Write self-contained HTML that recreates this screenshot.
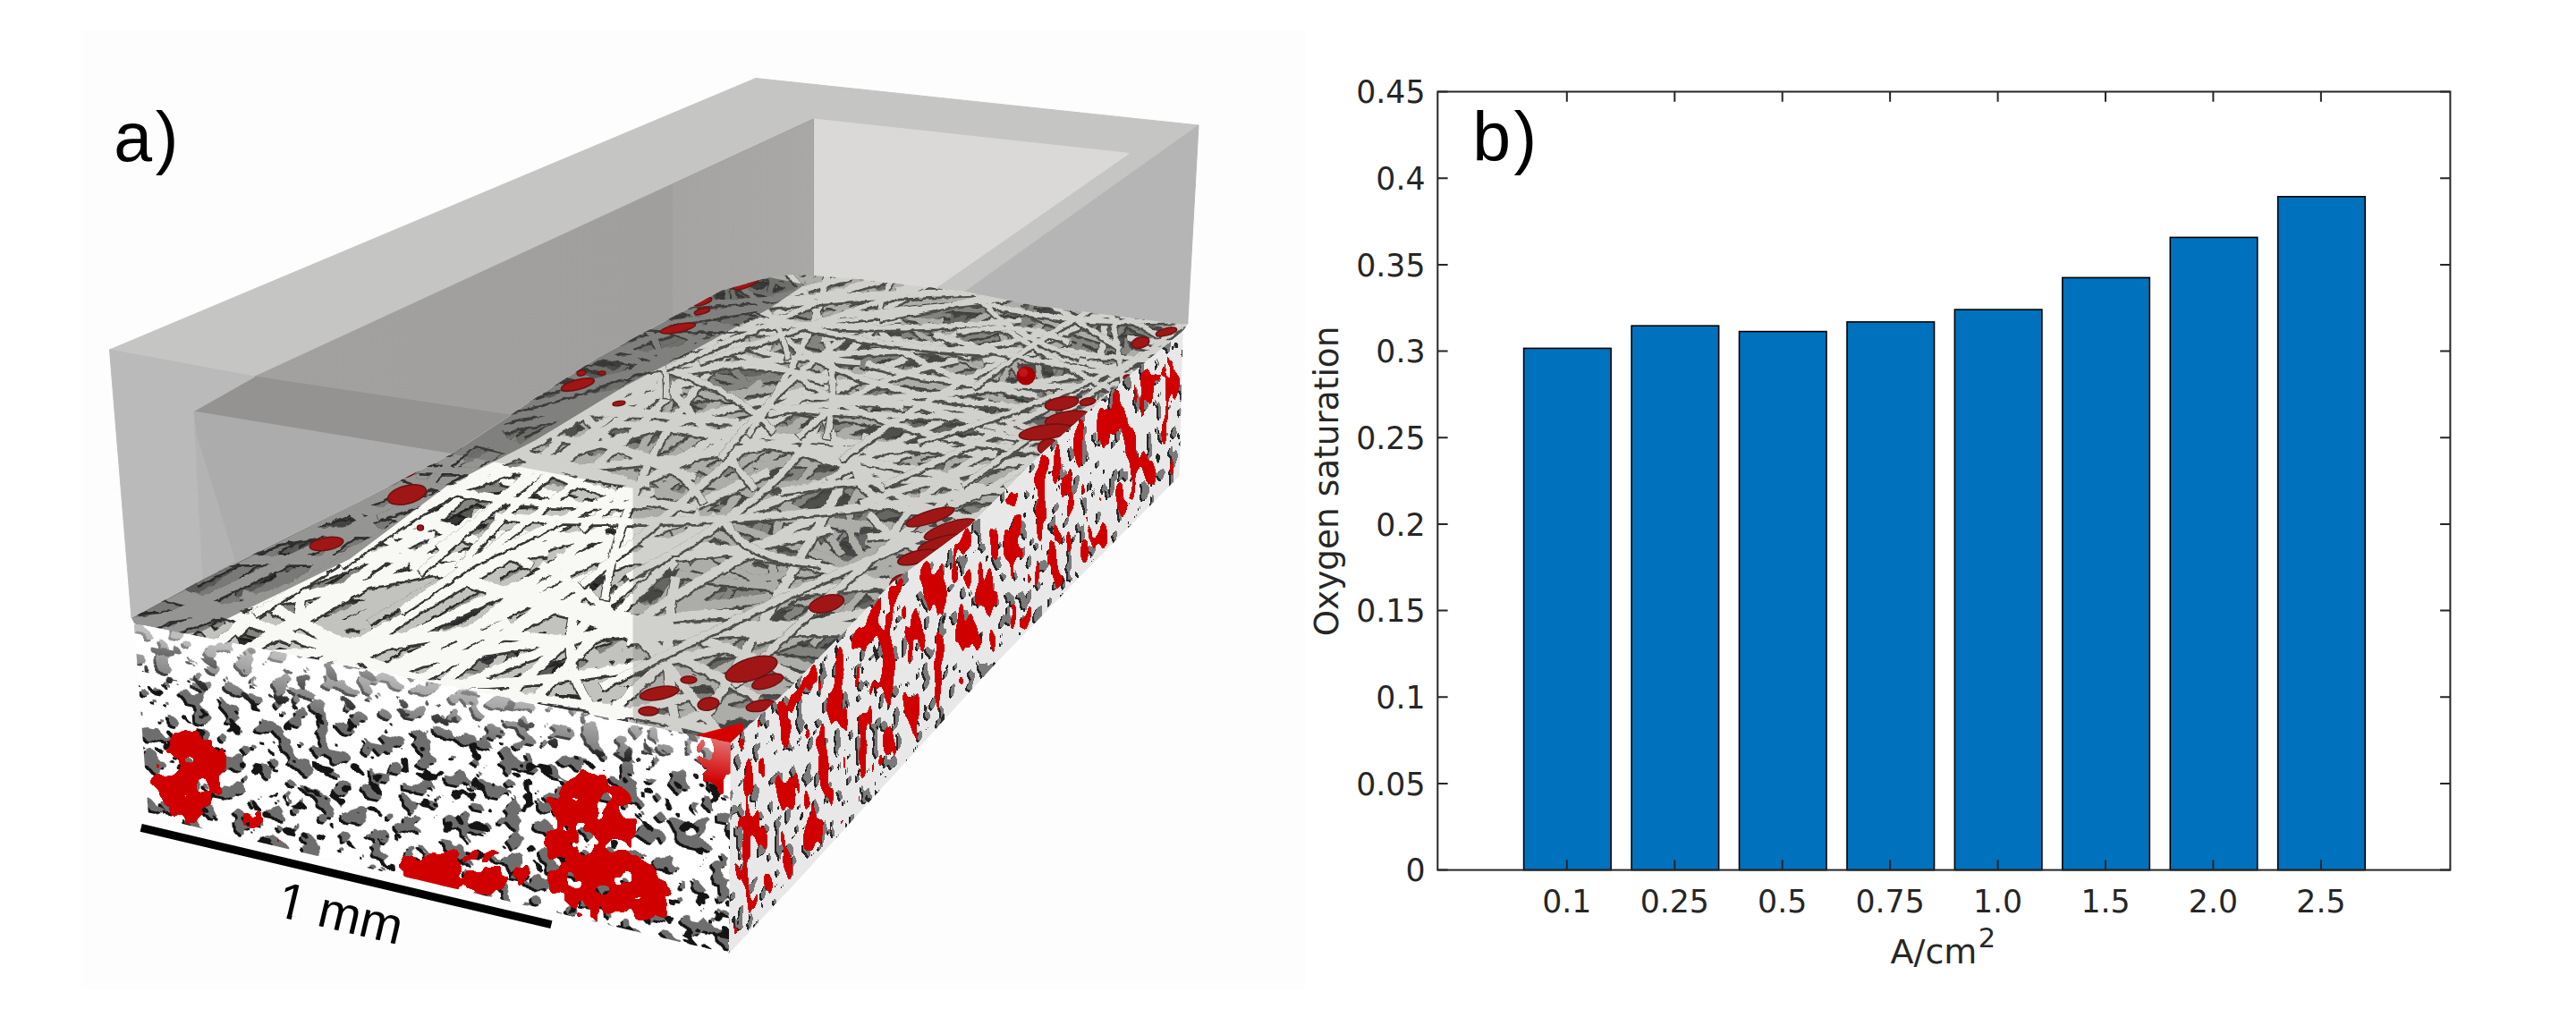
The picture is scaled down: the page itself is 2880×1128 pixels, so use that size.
<!DOCTYPE html>
<html><head><meta charset="utf-8"><style>
html,body{margin:0;padding:0;background:#fff;}
body{width:2880px;height:1128px;overflow:hidden;}
svg{display:block;}
.t{font-family:"DejaVu Sans","Liberation Sans",sans-serif;fill:#262626;}
</style></head><body>
<svg width="2880" height="1128" viewBox="0 0 2880 1128">
<rect x="0" y="0" width="2880" height="1128" fill="#fff"/>
<rect x="90" y="34" width="1369" height="1072" fill="#fdfdfd"/>
<defs><clipPath id="cfib"><polygon points="147.0,691.0 226.0,648.0 402.8,560.0 505.0,507.5 571.0,464.0 588.0,452.0 668.0,400.0 760.0,350.0 806.5,325.0 860.0,310.0 887.0,307.0 909.5,308.0 958.0,312.0 1046.0,322.0 1059.0,324.0 1079.0,326.0 1160.0,342.6 1177.0,344.0 1321.0,362.8 1328.0,362.0 1322.5,370.0 1248.0,432.0 1165.0,506.5 1085.0,587.0 998.0,651.0 880.0,772.0 817.0,830.0 150.0,697.0"/></clipPath><clipPath id="cfront"><polygon points="150.0,697.0 817.0,830.0 815.0,1066.0 166.0,912.0"/></clipPath><clipPath id="cright"><polygon points="817.0,830.0 880.0,772.0 998.0,651.0 1085.0,587.0 1165.0,506.5 1248.0,432.0 1322.5,370.0 1318.6,532.0 1212.0,640.0 1112.0,743.0 994.0,872.0 894.0,982.0 815.0,1066.0"/></clipPath><filter id="porF" x="0" y="0" width="1" height="1" color-interpolation-filters="sRGB">
<feTurbulence type="fractalNoise" baseFrequency="0.052 0.062" numOctaves="2" seed="5" result="n"/>
<feColorMatrix in="n" type="matrix" values="0 0 0 0 0  0 0 0 0 0  0 0 0 0 0  0 1 0 0 0"/>
<feComponentTransfer result="m"><feFuncA type="discrete" tableValues="1 1 1 1 1 1 1 1 1 1 1 1 1 1 1 1 1 0 0 0 0 0 0 0 0 0 0 0 0 0 0 0 0 0 0 0 0 0 0 0"/></feComponentTransfer>
<feFlood flood-color="#141414"/><feComposite in2="m" operator="in"/><feOffset dx="-2.5" dy="2.5" result="sh"/>
<feFlood flood-color="#6e6e6e"/><feComposite in2="m" operator="in" result="gy"/>
<feColorMatrix in="n" type="matrix" values="0 0 0 0 0  0 0 0 0 0  0 0 0 0 0  1 0 0 0 0"/>
<feComponentTransfer result="m2"><feFuncA type="discrete" tableValues="1 1 1 1 1 1 1 1 1 1 1 1 1 0 0 0 0 0 0 0 0 0 0 0 0 0 0 0 0 0 0 0 0 0 0 0 0 0 0 0"/></feComponentTransfer>
<feFlood flood-color="#141414"/><feComposite in2="m2" operator="in" result="dk"/>
<feFlood flood-color="#ffffff" result="bgc"/>
<feMerge><feMergeNode in="bgc"/><feMergeNode in="sh"/><feMergeNode in="gy"/><feMergeNode in="dk"/></feMerge>
</filter><filter id="porR" x="0" y="0" width="1" height="1" color-interpolation-filters="sRGB">
<feTurbulence type="fractalNoise" baseFrequency="0.12 0.05" numOctaves="2" seed="9" result="n"/>
<feColorMatrix in="n" type="matrix" values="0 0 0 0 0  0 0 0 0 0  0 0 0 0 0  0 1 0 0 0"/>
<feComponentTransfer result="m"><feFuncA type="discrete" tableValues="1 1 1 1 1 1 1 1 1 1 1 1 1 1 1 0 0 0 0 0 0 0 0 0 0 0 0 0 0 0 0 0 0 0 0 0 0 0 0 0"/></feComponentTransfer>
<feFlood flood-color="#262626"/><feComposite in2="m" operator="in"/><feOffset dx="-2" dy="2" result="sh"/>
<feFlood flood-color="#7a7a7a"/><feComposite in2="m" operator="in" result="gy"/>
<feColorMatrix in="n" type="matrix" values="0 0 0 0 0  0 0 0 0 0  0 0 0 0 0  1 0 0 0 0"/>
<feComponentTransfer result="m2"><feFuncA type="discrete" tableValues="1 1 1 1 1 1 1 1 1 1 0 0 0 0 0 0 0 0 0 0 0 0 0 0 0 0 0 0 0 0 0 0 0 0 0 0 0 0 0 0"/></feComponentTransfer>
<feFlood flood-color="#262626"/><feComposite in2="m2" operator="in" result="dk"/>
<feFlood flood-color="#e8e8e8" result="bgc"/>
<feMerge><feMergeNode in="bgc"/><feMergeNode in="sh"/><feMergeNode in="gy"/><feMergeNode in="dk"/></feMerge>
</filter><filter id="redF" x="-0.05" y="-0.05" width="1.1" height="1.1" color-interpolation-filters="sRGB">
<feTurbulence type="fractalNoise" baseFrequency="0.045" numOctaves="2" seed="21" result="n"/>
<feGaussianBlur in="SourceAlpha" stdDeviation="7" result="m"/>
<feComposite in="m" in2="n" operator="arithmetic" k1="0" k2="1" k3="2.0" k4="-1.25" result="s"/>
<feComponentTransfer in="s" result="t"><feFuncA type="discrete" tableValues="0 0 0 0 0 1 1 1 1 1"/></feComponentTransfer>
<feFlood flood-color="#d00000"/><feComposite in2="t" operator="in"/>
</filter><filter id="redR" x="-0.05" y="-0.05" width="1.1" height="1.1" color-interpolation-filters="sRGB">
<feTurbulence type="fractalNoise" baseFrequency="0.07 0.022" numOctaves="2" seed="23" result="n"/>
<feGaussianBlur in="SourceAlpha" stdDeviation="6" result="m"/>
<feComposite in="m" in2="n" operator="arithmetic" k1="0" k2="1" k3="2.0" k4="-1.55" result="s"/>
<feComponentTransfer in="s" result="t"><feFuncA type="discrete" tableValues="0 0 0 0 0 1 1 1 1 1"/></feComponentTransfer>
<feFlood flood-color="#d00000"/><feComposite in2="t" operator="in"/>
</filter><filter id="redT" x="-0.05" y="-0.05" width="1.1" height="1.1" color-interpolation-filters="sRGB">
<feTurbulence type="fractalNoise" baseFrequency="0.05 0.1" numOctaves="2" seed="29" result="n"/>
<feGaussianBlur in="SourceAlpha" stdDeviation="2.5" result="m"/>
<feComposite in="m" in2="n" operator="arithmetic" k1="0" k2="1" k3="1.2" k4="-0.6" result="s"/>
<feComponentTransfer in="s" result="t"><feFuncA type="discrete" tableValues="0 0 0 0 0 1 1 1 1 1"/></feComponentTransfer>
<feFlood flood-color="#a81212"/><feComposite in2="t" operator="in"/>
</filter><linearGradient id="gRR" gradientUnits="userSpaceOnUse" x1="1040" y1="620" x2="1150" y2="740"><stop offset="0" stop-color="#000" stop-opacity="1"/><stop offset="1" stop-color="#000" stop-opacity="0.8"/></linearGradient><linearGradient id="gFT" gradientUnits="userSpaceOnUse" x1="480" y1="760" x2="470" y2="820"><stop offset="0" stop-color="#fff" stop-opacity="0.55"/><stop offset="1" stop-color="#fff" stop-opacity="0"/></linearGradient><linearGradient id="gR5" x1="0" y1="0" x2="1" y2="0"><stop offset="0" stop-color="#a3a19f"/><stop offset="0.745" stop-color="#a19f9d"/><stop offset="0.75" stop-color="#a6a4a2"/><stop offset="1" stop-color="#aaa8a6"/></linearGradient><filter id="rough" x="0" y="0" width="1" height="1"><feTurbulence type="fractalNoise" baseFrequency="0.12" numOctaves="2" seed="3" result="t"/><feDisplacementMap in="SourceGraphic" in2="t" scale="5" xChannelSelector="R" yChannelSelector="G"/></filter></defs>
<polygon points="122.5,391.0 845.0,87.5 1340.0,140.0 1079.0,326.0 1046.0,322.0 1262.5,171.4 909.5,133.0 285.0,421.0" fill="#c5c5c3" stroke="#c5c5c3" stroke-width="1"/>
<polygon points="1340.0,140.0 1328.0,358.0 1328.0,362.0 1321.0,362.8 1177.0,344.0 1160.0,342.6 1079.0,326.0" fill="#b5b5b5" stroke="#b5b5b5" stroke-width="1"/>
<polygon points="909.5,133.0 1262.5,171.4 1046.0,322.0 958.0,312.0 909.5,308.0" fill="#dad9d7" stroke="#dad9d7" stroke-width="1"/>
<polygon points="285.0,421.0 909.5,133.0 909.5,308.0 887.0,307.0 860.0,310.0 806.5,325.0 760.0,350.0 668.0,400.0 588.0,452.0 571.0,464.0" fill="url(#gR5)" stroke="#a3a19f" stroke-width="1"/>
<polygon points="285.0,421.0 571.0,464.0 505.0,507.5 216.0,460.0" fill="#959392" stroke="#959392" stroke-width="1"/>
<polygon points="216.0,460.0 505.0,507.5 402.8,560.0 226.0,648.0" fill="#acacac" stroke="#acacac" stroke-width="1"/>
<polygon points="216.0,460.0 219.0,484.0 262.6,626.7 226.0,648.0" fill="#b3b3b3" stroke="#b3b3b3" stroke-width="1"/>
<polygon points="122.5,391.0 285.0,421.0 216.0,460.0 226.0,648.0 147.0,691.0" fill="#bababa" stroke="#bababa" stroke-width="1"/>
<g clip-path="url(#cfib)"><g filter="url(#rough)">
<polygon points="147.0,691.0 226.0,648.0 402.8,560.0 505.0,507.5 571.0,464.0 588.0,452.0 668.0,400.0 760.0,350.0 806.5,325.0 860.0,310.0 887.0,307.0 909.5,308.0 958.0,312.0 1046.0,322.0 1059.0,324.0 1079.0,326.0 1160.0,342.6 1177.0,344.0 1321.0,362.8 1328.0,362.0 1322.5,370.0 1248.0,432.0 1165.0,506.5 1085.0,587.0 998.0,651.0 880.0,772.0 817.0,830.0 150.0,697.0" fill="#2c2c2a"/>
<path d="M27 733Q257 713 349 782M-227 972Q286 740 637 564M211 986Q425 736 492 578M-207 772Q104 716 394 655M232 666Q444 621 618 526M757 614Q975 639 1081 761M280 722Q432 669 526 598M241 842Q597 712 882 640M607 680Q696 693 615 778M777 748Q993 805 1090 983M560 797Q775 821 999 839M92 745Q264 724 254 807M247 608Q454 651 538 777M671 598Q754 613 851 619M664 646Q781 707 869 800M430 807Q754 708 983 714M495 911Q775 691 902 530M740 735Q909 819 1051 955" fill="none" stroke="#1a1a1a" stroke-width="12.5" transform="translate(0 1.5)"/>
<path d="M27 733Q257 713 349 782M-227 972Q286 740 637 564M211 986Q425 736 492 578M-207 772Q104 716 394 655M232 666Q444 621 618 526M757 614Q975 639 1081 761M280 722Q432 669 526 598M241 842Q597 712 882 640M607 680Q696 693 615 778M777 748Q993 805 1090 983M560 797Q775 821 999 839M92 745Q264 724 254 807M247 608Q454 651 538 777M671 598Q754 613 851 619M664 646Q781 707 869 800M430 807Q754 708 983 714M495 911Q775 691 902 530M740 735Q909 819 1051 955" fill="none" stroke="#383838" stroke-width="10"/>
<path d="M698 560Q859 458 1006 378M522 530Q695 459 762 387M400 584Q471 519 443 484M520 528Q652 503 780 463M671 651Q944 561 1144 454M1096 602Q1183 560 1267 553M584 712Q899 528 1153 408M619 445Q626 474 644 500M1023 612Q906 620 921 554M364 556Q488 540 605 526M693 365Q603 464 667 538M1053 532Q1223 524 1367 548" fill="none" stroke="#1a1a1a" stroke-width="10.5" transform="translate(0 1.5)"/>
<path d="M698 560Q859 458 1006 378M522 530Q695 459 762 387M400 584Q471 519 443 484M520 528Q652 503 780 463M671 651Q944 561 1144 454M1096 602Q1183 560 1267 553M584 712Q899 528 1153 408M619 445Q626 474 644 500M1023 612Q906 620 921 554M364 556Q488 540 605 526M693 365Q603 464 667 538M1053 532Q1223 524 1367 548" fill="none" stroke="#383838" stroke-width="8"/>
<path d="M1018 389Q1232 408 1377 490M960 465Q1027 479 1119 447M893 405Q1021 400 1040 458M722 340Q780 380 909 386M575 375Q710 385 721 452M789 476Q912 428 1003 438M1227 460Q1126 437 1069 393M740 475Q833 435 925 412M631 392Q842 353 993 367M758 434Q908 403 1011 419M856 568Q828 446 796 351" fill="none" stroke="#1a1a1a" stroke-width="9.0" transform="translate(0 1.5)"/>
<path d="M1018 389Q1232 408 1377 490M960 465Q1027 479 1119 447M893 405Q1021 400 1040 458M722 340Q780 380 909 386M575 375Q710 385 721 452M789 476Q912 428 1003 438M1227 460Q1126 437 1069 393M740 475Q833 435 925 412M631 392Q842 353 993 367M758 434Q908 403 1011 419M856 568Q828 446 796 351" fill="none" stroke="#383838" stroke-width="6.5"/>
<path d="M1287 453Q1400 404 1458 344M1223 386Q1376 360 1488 391M763 355Q1004 300 1193 233M944 373Q969 327 1068 303M880 351Q988 288 1001 236M733 248Q873 269 1002 300M1030 398Q1148 361 1177 310M1135 286Q1228 334 1363 369M1182 370Q1335 367 1475 379M1253 456Q1396 382 1508 316M1067 395Q995 361 947 322M1150 328Q1230 347 1339 333M705 310Q737 339 850 318M1280 441Q1389 337 1442 253M1292 358Q1323 384 1367 406M980 397Q1062 365 1134 367M1061 505Q1204 370 1311 269M992 410Q1092 353 1158 300M1152 383Q1307 355 1450 336" fill="none" stroke="#1a1a1a" stroke-width="8.0" transform="translate(0 1.5)"/>
<path d="M1287 453Q1400 404 1458 344M1223 386Q1376 360 1488 391M763 355Q1004 300 1193 233M944 373Q969 327 1068 303M880 351Q988 288 1001 236M733 248Q873 269 1002 300M1030 398Q1148 361 1177 310M1135 286Q1228 334 1363 369M1182 370Q1335 367 1475 379M1253 456Q1396 382 1508 316M1067 395Q995 361 947 322M1150 328Q1230 347 1339 333M705 310Q737 339 850 318M1280 441Q1389 337 1442 253M1292 358Q1323 384 1367 406M980 397Q1062 365 1134 367M1061 505Q1204 370 1311 269M992 410Q1092 353 1158 300M1152 383Q1307 355 1450 336" fill="none" stroke="#383838" stroke-width="5.5"/>
<path d="M110 907Q505 648 676 473M502 845Q632 885 815 881M531 856Q601 762 666 679M339 577Q408 632 471 698M53 796Q335 617 553 484M731 653Q1064 610 1324 648M178 685Q398 604 512 513M172 665Q227 600 278 541M-117 811Q93 751 259 656M258 761Q598 604 825 470M210 550Q325 549 346 595M463 688Q562 721 633 775M563 726Q822 694 1075 636M401 853Q798 767 1125 609M209 523Q264 601 479 606M367 702Q471 791 644 855M518 565Q660 629 687 772M-120 885Q224 656 379 502M278 764Q577 591 851 508M661 761Q804 832 967 905M718 634Q858 614 965 628M256 614Q403 551 507 488M906 586Q1062 630 1083 769M-222 896Q179 695 384 539M494 597Q583 639 770 601M393 701Q611 650 806 610M620 716Q772 608 744 543M650 872Q1023 673 1223 496M715 636Q852 736 1073 804M162 697Q349 706 454 769M232 859Q485 889 812 838M-80 835Q152 680 404 575M496 730Q483 817 634 810M57 925Q370 743 632 616" fill="none" stroke="#1e1e1e" stroke-width="12.5" transform="translate(0 1.5)"/>
<path d="M110 907Q505 648 676 473M502 845Q632 885 815 881M531 856Q601 762 666 679M339 577Q408 632 471 698M53 796Q335 617 553 484M731 653Q1064 610 1324 648M178 685Q398 604 512 513M172 665Q227 600 278 541M-117 811Q93 751 259 656M258 761Q598 604 825 470M210 550Q325 549 346 595M463 688Q562 721 633 775M563 726Q822 694 1075 636M401 853Q798 767 1125 609M209 523Q264 601 479 606M367 702Q471 791 644 855M518 565Q660 629 687 772M-120 885Q224 656 379 502M278 764Q577 591 851 508M661 761Q804 832 967 905M718 634Q858 614 965 628M256 614Q403 551 507 488M906 586Q1062 630 1083 769M-222 896Q179 695 384 539M494 597Q583 639 770 601M393 701Q611 650 806 610M620 716Q772 608 744 543M650 872Q1023 673 1223 496M715 636Q852 736 1073 804M162 697Q349 706 454 769M232 859Q485 889 812 838M-80 835Q152 680 404 575M496 730Q483 817 634 810M57 925Q370 743 632 616" fill="none" stroke="#5a5a58" stroke-width="10"/>
<path d="M529 351Q661 405 673 520M651 384Q673 482 710 600M878 595Q1058 559 1210 557M931 579Q1073 544 1148 471M980 656Q1165 567 1323 493M480 539Q600 480 708 428M424 492Q392 533 417 560M764 427Q948 475 1114 550M528 510Q576 537 689 521M911 532Q1185 509 1436 498M816 603Q1095 605 1386 560M676 537Q826 450 856 379M804 527Q938 588 1066 669M703 565Q672 514 600 486M541 504Q699 525 774 598M685 690Q797 544 782 453M331 483Q465 545 608 617M385 421Q579 452 759 498M741 551Q877 513 998 495M510 513Q585 547 711 554" fill="none" stroke="#1e1e1e" stroke-width="10.5" transform="translate(0 1.5)"/>
<path d="M529 351Q661 405 673 520M651 384Q673 482 710 600M878 595Q1058 559 1210 557M931 579Q1073 544 1148 471M980 656Q1165 567 1323 493M480 539Q600 480 708 428M424 492Q392 533 417 560M764 427Q948 475 1114 550M528 510Q576 537 689 521M911 532Q1185 509 1436 498M816 603Q1095 605 1386 560M676 537Q826 450 856 379M804 527Q938 588 1066 669M703 565Q672 514 600 486M541 504Q699 525 774 598M685 690Q797 544 782 453M331 483Q465 545 608 617M385 421Q579 452 759 498M741 551Q877 513 998 495M510 513Q585 547 711 554" fill="none" stroke="#5a5a58" stroke-width="8"/>
<path d="M936 545Q1173 458 1382 422M732 410Q917 415 1036 469M635 424Q890 415 1090 450M1268 514Q1209 453 1211 383M894 470Q1041 439 1169 431M1115 484Q1303 462 1463 479M597 396Q647 428 787 399M633 472Q826 384 999 318M1043 432Q1147 432 1204 469M1004 526Q1036 397 1040 300M1264 555Q1136 470 1124 365M1160 446Q1258 482 1377 509M689 394Q806 366 887 320M979 467Q1055 489 1165 477M799 300Q786 361 841 410M775 335Q931 377 1021 465M783 404Q934 378 1013 410M802 438Q1032 427 1259 367" fill="none" stroke="#1e1e1e" stroke-width="9.0" transform="translate(0 1.5)"/>
<path d="M936 545Q1173 458 1382 422M732 410Q917 415 1036 469M635 424Q890 415 1090 450M1268 514Q1209 453 1211 383M894 470Q1041 439 1169 431M1115 484Q1303 462 1463 479M597 396Q647 428 787 399M633 472Q826 384 999 318M1043 432Q1147 432 1204 469M1004 526Q1036 397 1040 300M1264 555Q1136 470 1124 365M1160 446Q1258 482 1377 509M689 394Q806 366 887 320M979 467Q1055 489 1165 477M799 300Q786 361 841 410M775 335Q931 377 1021 465M783 404Q934 378 1013 410M802 438Q1032 427 1259 367" fill="none" stroke="#5a5a58" stroke-width="6.5"/>
<path d="M932 342Q936 304 846 310M762 388Q795 296 851 216M867 369Q921 304 1039 253M1003 384Q1169 383 1302 413M771 257Q861 279 932 312M752 268Q874 275 981 293M1059 416Q1080 308 1004 244M909 369Q1126 315 1317 276M870 305Q1034 343 1111 436M1218 452Q1383 356 1485 271M1033 403Q1061 354 1138 313M1020 356Q1165 360 1267 400M974 322Q1038 381 1112 447M1105 361Q1120 390 1145 417M1064 331Q1135 349 1236 336M1233 327Q1373 334 1450 391M1099 275Q1176 335 1348 348M1166 379Q1277 364 1369 375" fill="none" stroke="#1e1e1e" stroke-width="8.0" transform="translate(0 1.5)"/>
<path d="M932 342Q936 304 846 310M762 388Q795 296 851 216M867 369Q921 304 1039 253M1003 384Q1169 383 1302 413M771 257Q861 279 932 312M752 268Q874 275 981 293M1059 416Q1080 308 1004 244M909 369Q1126 315 1317 276M870 305Q1034 343 1111 436M1218 452Q1383 356 1485 271M1033 403Q1061 354 1138 313M1020 356Q1165 360 1267 400M974 322Q1038 381 1112 447M1105 361Q1120 390 1145 417M1064 331Q1135 349 1236 336M1233 327Q1373 334 1450 391M1099 275Q1176 335 1348 348M1166 379Q1277 364 1369 375" fill="none" stroke="#5a5a58" stroke-width="5.5"/>
<path d="M54 674Q262 684 395 743M-44 616Q160 680 165 861M612 783Q792 614 994 497M195 563Q200 610 258 640M513 672Q656 683 757 729M50 964Q235 757 460 593M474 526Q643 591 653 757M595 854Q890 756 1092 782M202 531Q173 611 334 614M705 690Q1052 606 1315 624M423 702Q604 628 738 624M546 674Q755 721 1009 737M695 703Q634 683 562 672M247 588Q239 678 345 732M524 1045Q678 821 882 655M263 656Q296 690 403 681M-50 893Q331 652 651 498M88 604Q267 598 480 554M22 838Q377 785 727 676M458 727Q656 758 713 894M470 598Q397 681 454 726M-31 716Q245 744 442 833M161 649Q74 800 240 864M512 761Q708 710 855 711M91 642Q292 692 282 864M153 647Q312 685 394 773M-53 719Q201 756 438 812M671 672Q532 644 556 550M31 633Q135 661 296 657M840 771Q900 858 1095 801M724 766Q1012 634 1255 555M355 651Q369 706 521 667M439 745Q684 772 939 794M82 695Q411 597 630 592M725 942Q912 767 1126 682M796 995Q967 878 962 780M927 701Q1016 692 1092 699M362 659Q534 651 733 568M-11 672Q34 764 308 733" fill="none" stroke="#242424" stroke-width="12.5" transform="translate(0 1.5)"/>
<path d="M54 674Q262 684 395 743M-44 616Q160 680 165 861M612 783Q792 614 994 497M195 563Q200 610 258 640M513 672Q656 683 757 729M50 964Q235 757 460 593M474 526Q643 591 653 757M595 854Q890 756 1092 782M202 531Q173 611 334 614M705 690Q1052 606 1315 624M423 702Q604 628 738 624M546 674Q755 721 1009 737M695 703Q634 683 562 672M247 588Q239 678 345 732M524 1045Q678 821 882 655M263 656Q296 690 403 681M-50 893Q331 652 651 498M88 604Q267 598 480 554M22 838Q377 785 727 676M458 727Q656 758 713 894M470 598Q397 681 454 726M-31 716Q245 744 442 833M161 649Q74 800 240 864M512 761Q708 710 855 711M91 642Q292 692 282 864M153 647Q312 685 394 773M-53 719Q201 756 438 812M671 672Q532 644 556 550M31 633Q135 661 296 657M840 771Q900 858 1095 801M724 766Q1012 634 1255 555M355 651Q369 706 521 667M439 745Q684 772 939 794M82 695Q411 597 630 592M725 942Q912 767 1126 682M796 995Q967 878 962 780M927 701Q1016 692 1092 699M362 659Q534 651 733 568M-11 672Q34 764 308 733" fill="none" stroke="#858581" stroke-width="10"/>
<path d="M531 622Q627 556 677 499M1038 466Q1229 480 1332 570M1048 643Q1204 522 1278 419M492 690Q771 536 980 419M1113 463Q1221 503 1229 600M703 521Q754 565 864 576M637 417Q809 458 849 576M1054 554Q1124 593 1240 598M772 446Q873 498 1035 519M864 665Q953 585 1043 518M752 771Q857 588 940 451M804 449Q921 520 1132 544M406 487Q479 489 554 489M610 422Q779 412 849 463M571 619Q643 563 680 514M435 690Q766 560 991 434M720 374Q692 469 527 608M311 539Q541 531 784 500M275 563Q566 551 864 516M532 521Q686 492 797 500M532 584Q697 554 857 503M629 495Q688 559 826 591M438 503Q560 490 641 504M445 432Q444 503 510 558M600 591Q818 542 1003 521M879 691Q1021 592 1103 502M741 447Q846 523 1027 574M312 527Q626 467 899 413" fill="none" stroke="#242424" stroke-width="10.5" transform="translate(0 1.5)"/>
<path d="M531 622Q627 556 677 499M1038 466Q1229 480 1332 570M1048 643Q1204 522 1278 419M492 690Q771 536 980 419M1113 463Q1221 503 1229 600M703 521Q754 565 864 576M637 417Q809 458 849 576M1054 554Q1124 593 1240 598M772 446Q873 498 1035 519M864 665Q953 585 1043 518M752 771Q857 588 940 451M804 449Q921 520 1132 544M406 487Q479 489 554 489M610 422Q779 412 849 463M571 619Q643 563 680 514M435 690Q766 560 991 434M720 374Q692 469 527 608M311 539Q541 531 784 500M275 563Q566 551 864 516M532 521Q686 492 797 500M532 584Q697 554 857 503M629 495Q688 559 826 591M438 503Q560 490 641 504M445 432Q444 503 510 558M600 591Q818 542 1003 521M879 691Q1021 592 1103 502M741 447Q846 523 1027 574M312 527Q626 467 899 413" fill="none" stroke="#858581" stroke-width="8"/>
<path d="M732 451Q1010 392 1248 354M404 400Q685 366 929 346M753 404Q785 432 833 456M683 396Q777 388 824 409M1068 417Q1251 465 1460 508M616 383Q746 392 813 436M435 501Q585 396 772 320M1070 410Q1166 428 1281 431M608 444Q844 387 1046 355M906 399Q1011 418 1141 418M749 319Q797 401 895 483M917 518Q995 439 1023 375M830 340Q852 378 938 391M745 381Q843 402 994 363M970 449Q844 441 765 407M610 399Q710 401 811 400M744 519Q1046 456 1306 396M1179 409Q1187 447 1265 444" fill="none" stroke="#242424" stroke-width="9.0" transform="translate(0 1.5)"/>
<path d="M732 451Q1010 392 1248 354M404 400Q685 366 929 346M753 404Q785 432 833 456M683 396Q777 388 824 409M1068 417Q1251 465 1460 508M616 383Q746 392 813 436M435 501Q585 396 772 320M1070 410Q1166 428 1281 431M608 444Q844 387 1046 355M906 399Q1011 418 1141 418M749 319Q797 401 895 483M917 518Q995 439 1023 375M830 340Q852 378 938 391M745 381Q843 402 994 363M970 449Q844 441 765 407M610 399Q710 401 811 400M744 519Q1046 456 1306 396M1179 409Q1187 447 1265 444" fill="none" stroke="#858581" stroke-width="6.5"/>
<path d="M1179 369Q1214 387 1267 394M1230 399Q1304 312 1269 252M1006 418Q1012 372 1077 328M872 267Q974 324 1159 349M1362 372Q1346 334 1397 297M950 284Q975 312 991 345M1267 465Q1371 394 1471 336M1018 342Q1184 352 1344 370M1260 378Q1257 422 1347 414M977 350Q961 319 993 282M1163 400Q1209 347 1207 304M826 325Q870 354 964 360M974 376Q1067 336 1162 325M1118 356Q1221 395 1333 437M1156 365Q1281 312 1408 285M789 296Q833 307 897 307M1262 335Q1324 403 1474 430M1111 407Q1171 321 1202 252M1251 357Q1339 406 1460 443M788 310Q880 313 970 316M1166 448Q1205 372 1280 309M1008 375Q1142 355 1260 354M974 386Q1066 392 1167 353M927 357Q998 352 1063 353M886 255Q990 274 1035 322" fill="none" stroke="#242424" stroke-width="8.0" transform="translate(0 1.5)"/>
<path d="M1179 369Q1214 387 1267 394M1230 399Q1304 312 1269 252M1006 418Q1012 372 1077 328M872 267Q974 324 1159 349M1362 372Q1346 334 1397 297M950 284Q975 312 991 345M1267 465Q1371 394 1471 336M1018 342Q1184 352 1344 370M1260 378Q1257 422 1347 414M977 350Q961 319 993 282M1163 400Q1209 347 1207 304M826 325Q870 354 964 360M974 376Q1067 336 1162 325M1118 356Q1221 395 1333 437M1156 365Q1281 312 1408 285M789 296Q833 307 897 307M1262 335Q1324 403 1474 430M1111 407Q1171 321 1202 252M1251 357Q1339 406 1460 443M788 310Q880 313 970 316M1166 448Q1205 372 1280 309M1008 375Q1142 355 1260 354M974 386Q1066 392 1167 353M927 357Q998 352 1063 353M886 255Q990 274 1035 322" fill="none" stroke="#858581" stroke-width="5.5"/>
<path d="M587 1079Q759 884 936 740M650 909Q1008 773 1251 607M36 800Q448 581 701 422M599 873Q732 684 833 541M473 904Q533 753 644 618M42 998Q404 771 717 657M185 1062Q591 792 870 604M658 737Q855 708 957 770M648 767Q856 742 969 810M595 861Q851 720 941 586M306 739Q623 582 804 449M458 635Q597 571 728 529M671 793Q750 672 912 580M304 619Q346 738 582 772M710 745Q823 734 806 809M817 654Q933 637 1037 633M99 656Q153 703 250 732M-5 647Q271 598 525 547M392 887Q811 799 1169 730M196 742Q484 543 561 414M338 715Q484 699 458 783M502 856Q741 852 992 820M187 664Q316 672 341 737M-50 872Q295 895 751 773M668 558Q819 584 902 660M2 641Q196 638 239 716M562 663Q521 615 652 543M333 1013Q652 798 933 699M470 1030Q639 796 568 685M129 732Q410 541 651 405M411 727Q623 687 691 758M614 831Q786 742 909 649M692 651Q728 727 904 703M495 756Q729 777 950 818M585 855Q763 796 923 750M308 1046Q538 750 815 547M693 682Q833 682 994 638M206 665Q285 706 449 697M-259 950Q241 762 595 587M875 666Q1061 718 1319 670M316 763Q486 767 655 771M176 682Q228 613 79 641M-131 914Q256 786 571 685M298 579Q227 677 275 744M665 640Q832 612 905 664M296 536Q446 577 494 679M306 833Q500 779 682 712M421 801Q374 722 457 611M273 797Q649 607 824 451M24 691Q270 668 485 662M878 654Q730 628 621 582M307 717Q405 740 396 821M-87 746Q138 765 379 776M98 718Q50 787 133 803M1106 862Q1035 679 876 588M387 787Q670 625 880 499M513 720Q712 614 810 515M329 594Q467 629 658 630M709 843Q714 732 597 696M-171 711Q203 601 484 554M144 994Q367 793 604 646" fill="none" stroke="#2c2c2c" stroke-width="12.5" transform="translate(0 1.5)"/>
<path d="M587 1079Q759 884 936 740M650 909Q1008 773 1251 607M36 800Q448 581 701 422M599 873Q732 684 833 541M473 904Q533 753 644 618M42 998Q404 771 717 657M185 1062Q591 792 870 604M658 737Q855 708 957 770M648 767Q856 742 969 810M595 861Q851 720 941 586M306 739Q623 582 804 449M458 635Q597 571 728 529M671 793Q750 672 912 580M304 619Q346 738 582 772M710 745Q823 734 806 809M817 654Q933 637 1037 633M99 656Q153 703 250 732M-5 647Q271 598 525 547M392 887Q811 799 1169 730M196 742Q484 543 561 414M338 715Q484 699 458 783M502 856Q741 852 992 820M187 664Q316 672 341 737M-50 872Q295 895 751 773M668 558Q819 584 902 660M2 641Q196 638 239 716M562 663Q521 615 652 543M333 1013Q652 798 933 699M470 1030Q639 796 568 685M129 732Q410 541 651 405M411 727Q623 687 691 758M614 831Q786 742 909 649M692 651Q728 727 904 703M495 756Q729 777 950 818M585 855Q763 796 923 750M308 1046Q538 750 815 547M693 682Q833 682 994 638M206 665Q285 706 449 697M-259 950Q241 762 595 587M875 666Q1061 718 1319 670M316 763Q486 767 655 771M176 682Q228 613 79 641M-131 914Q256 786 571 685M298 579Q227 677 275 744M665 640Q832 612 905 664M296 536Q446 577 494 679M306 833Q500 779 682 712M421 801Q374 722 457 611M273 797Q649 607 824 451M24 691Q270 668 485 662M878 654Q730 628 621 582M307 717Q405 740 396 821M-87 746Q138 765 379 776M98 718Q50 787 133 803M1106 862Q1035 679 876 588M387 787Q670 625 880 499M513 720Q712 614 810 515M329 594Q467 629 658 630M709 843Q714 732 597 696M-171 711Q203 601 484 554M144 994Q367 793 604 646" fill="none" stroke="#c2c2be" stroke-width="10"/>
<path d="M908 721Q1026 605 1063 513M968 606Q1073 625 1112 691M646 468Q705 509 757 558M994 643Q1174 573 1337 544M264 564Q505 541 747 499M654 472Q723 539 776 628M564 540Q553 479 620 408M844 647Q1159 609 1446 572M842 520Q1095 504 1313 524M739 533Q874 551 1046 531M412 695Q678 546 852 427M1100 788Q1079 626 1201 480M373 412Q485 485 703 520M654 593Q731 480 793 388M1016 501Q1049 619 1173 723M624 472Q639 550 804 559M759 641Q945 681 1199 624M963 619Q928 577 983 516M956 553Q1104 563 1266 551M220 651Q474 517 714 436M824 705Q1005 594 1170 515M567 539Q803 567 981 647M878 679Q836 607 914 515M426 505Q732 439 969 428M662 621Q950 471 1197 380M388 760Q723 556 961 412M528 574Q808 569 1051 593M825 521Q914 465 947 414M825 686Q1154 581 1418 576M671 466Q705 584 878 665M952 513Q1034 547 1173 507M1004 585Q1079 535 1165 523M760 538Q902 546 941 621M757 504Q831 560 961 593M646 461Q760 487 940 437M567 402Q567 453 587 502M853 479Q1027 493 1169 538M1163 695Q1008 691 992 601" fill="none" stroke="#2c2c2c" stroke-width="10.5" transform="translate(0 1.5)"/>
<path d="M908 721Q1026 605 1063 513M968 606Q1073 625 1112 691M646 468Q705 509 757 558M994 643Q1174 573 1337 544M264 564Q505 541 747 499M654 472Q723 539 776 628M564 540Q553 479 620 408M844 647Q1159 609 1446 572M842 520Q1095 504 1313 524M739 533Q874 551 1046 531M412 695Q678 546 852 427M1100 788Q1079 626 1201 480M373 412Q485 485 703 520M654 593Q731 480 793 388M1016 501Q1049 619 1173 723M624 472Q639 550 804 559M759 641Q945 681 1199 624M963 619Q928 577 983 516M956 553Q1104 563 1266 551M220 651Q474 517 714 436M824 705Q1005 594 1170 515M567 539Q803 567 981 647M878 679Q836 607 914 515M426 505Q732 439 969 428M662 621Q950 471 1197 380M388 760Q723 556 961 412M528 574Q808 569 1051 593M825 521Q914 465 947 414M825 686Q1154 581 1418 576M671 466Q705 584 878 665M952 513Q1034 547 1173 507M1004 585Q1079 535 1165 523M760 538Q902 546 941 621M757 504Q831 560 961 593M646 461Q760 487 940 437M567 402Q567 453 587 502M853 479Q1027 493 1169 538M1163 695Q1008 691 992 601" fill="none" stroke="#c2c2be" stroke-width="8"/>
<path d="M1004 417Q1224 386 1389 419M917 429Q994 441 1093 405M655 382Q728 395 841 361M1029 509Q1247 471 1436 470M567 532Q820 384 1067 297M518 519Q721 389 916 295M974 458Q927 400 775 406M878 356Q974 382 1086 401M635 403Q800 451 1018 477M490 543Q554 418 681 309M639 386Q774 400 954 361M1062 425Q837 414 718 352M1119 365Q1138 469 1297 531M813 371Q914 377 924 426M673 381Q778 355 867 349M1152 505Q1290 440 1342 367M1220 470Q1150 443 1163 390M1266 522Q1179 443 1011 428M1118 446Q1118 401 1170 357M1123 474Q1247 487 1386 477" fill="none" stroke="#2c2c2c" stroke-width="9.0" transform="translate(0 1.5)"/>
<path d="M1004 417Q1224 386 1389 419M917 429Q994 441 1093 405M655 382Q728 395 841 361M1029 509Q1247 471 1436 470M567 532Q820 384 1067 297M518 519Q721 389 916 295M974 458Q927 400 775 406M878 356Q974 382 1086 401M635 403Q800 451 1018 477M490 543Q554 418 681 309M639 386Q774 400 954 361M1062 425Q837 414 718 352M1119 365Q1138 469 1297 531M813 371Q914 377 924 426M673 381Q778 355 867 349M1152 505Q1290 440 1342 367M1220 470Q1150 443 1163 390M1266 522Q1179 443 1011 428M1118 446Q1118 401 1170 357M1123 474Q1247 487 1386 477" fill="none" stroke="#c2c2be" stroke-width="6.5"/>
<path d="M865 227Q861 290 923 345M730 451Q872 326 1040 235M887 306Q867 349 906 379M896 410Q832 356 879 284M1009 340Q1185 318 1321 339M915 289Q991 359 1117 423M800 367Q941 317 1075 292M1024 289Q1079 311 1153 326M842 264Q859 308 919 343M1097 497Q1306 384 1402 282M1281 319Q1355 348 1439 375M1268 334Q1333 391 1473 407M702 406Q887 336 965 264M1116 293Q1189 312 1246 343M1045 275Q1102 345 1251 386M1079 303Q1180 356 1356 369M1055 375Q1187 315 1260 254M739 275Q810 314 960 315M1247 295Q1339 343 1420 408M1059 314Q1209 304 1300 342M812 375Q802 323 751 289M981 337Q863 334 844 290M926 296Q969 309 1039 302M830 409Q921 365 971 321M1050 304Q1144 299 1229 302M845 295Q928 278 996 279M791 256Q833 319 796 418M866 252Q952 309 1052 374M1054 360Q873 338 737 298M837 388Q811 307 806 235M1093 357Q1194 318 1288 285" fill="none" stroke="#2c2c2c" stroke-width="8.0" transform="translate(0 1.5)"/>
<path d="M865 227Q861 290 923 345M730 451Q872 326 1040 235M887 306Q867 349 906 379M896 410Q832 356 879 284M1009 340Q1185 318 1321 339M915 289Q991 359 1117 423M800 367Q941 317 1075 292M1024 289Q1079 311 1153 326M842 264Q859 308 919 343M1097 497Q1306 384 1402 282M1281 319Q1355 348 1439 375M1268 334Q1333 391 1473 407M702 406Q887 336 965 264M1116 293Q1189 312 1246 343M1045 275Q1102 345 1251 386M1079 303Q1180 356 1356 369M1055 375Q1187 315 1260 254M739 275Q810 314 960 315M1247 295Q1339 343 1420 408M1059 314Q1209 304 1300 342M812 375Q802 323 751 289M981 337Q863 334 844 290M926 296Q969 309 1039 302M830 409Q921 365 971 321M1050 304Q1144 299 1229 302M845 295Q928 278 996 279M791 256Q833 319 796 418M866 252Q952 309 1052 374M1054 360Q873 338 737 298M837 388Q811 307 806 235M1093 357Q1194 318 1288 285" fill="none" stroke="#c2c2be" stroke-width="5.5"/>
<path d="M259 736Q429 634 524 548M187 571Q54 716 -71 892M386 565Q494 672 761 708M846 716Q999 666 1114 675M-6 746Q170 633 364 549M786 806Q899 622 971 486M311 765Q418 778 569 694M645 670Q605 811 780 858M622 623Q756 635 930 591M693 707Q808 629 926 570M483 770Q727 785 919 854M346 765Q727 681 993 703M41 709Q355 673 677 594M337 692Q319 630 471 547M575 666Q775 695 924 774M411 569Q517 591 596 633M13 865Q336 704 551 567M553 599Q823 596 1014 662M803 837Q897 871 1025 871M378 1023Q610 761 801 576M459 631Q674 683 848 781M23 616Q293 636 613 617M629 997Q814 854 997 770M431 833Q586 833 777 776M264 709Q340 630 489 576M-43 620Q266 583 485 599M478 855Q589 894 786 797M183 656Q260 681 326 716M162 848Q458 691 668 562M296 866Q339 785 491 722M559 536Q684 567 755 634M176 572Q186 628 359 595M437 820Q527 726 653 648M381 744Q645 624 860 527M-294 838Q181 664 519 513M147 912Q369 743 569 613M-44 868Q178 780 289 682M-418 897Q75 757 472 600M390 951Q598 740 784 584M414 767Q366 700 271 664M-260 881Q263 672 578 492M242 829Q452 864 723 842M348 751Q532 790 816 723M604 630Q738 708 817 842M352 786Q720 605 1018 505M511 717Q624 626 730 548M474 958Q531 805 427 744M701 716Q1023 683 1259 749M360 721Q525 701 644 717M563 840Q688 897 883 895M756 644Q721 808 820 952M145 699Q258 762 538 702M810 844Q941 747 1080 703M559 904Q658 819 739 744M423 749Q375 708 306 682M864 665Q1130 629 1338 667M60 567Q351 543 516 594M475 762Q305 701 136 650M484 781Q685 681 829 686M-54 1009Q360 820 661 659M329 534Q419 539 477 563M69 619Q340 538 569 472M561 682Q667 616 782 574" fill="none" stroke="#363636" stroke-width="12.5" transform="translate(0 1.5)"/>
<path d="M259 736Q429 634 524 548M187 571Q54 716 -71 892M386 565Q494 672 761 708M846 716Q999 666 1114 675M-6 746Q170 633 364 549M786 806Q899 622 971 486M311 765Q418 778 569 694M645 670Q605 811 780 858M622 623Q756 635 930 591M693 707Q808 629 926 570M483 770Q727 785 919 854M346 765Q727 681 993 703M41 709Q355 673 677 594M337 692Q319 630 471 547M575 666Q775 695 924 774M411 569Q517 591 596 633M13 865Q336 704 551 567M553 599Q823 596 1014 662M803 837Q897 871 1025 871M378 1023Q610 761 801 576M459 631Q674 683 848 781M23 616Q293 636 613 617M629 997Q814 854 997 770M431 833Q586 833 777 776M264 709Q340 630 489 576M-43 620Q266 583 485 599M478 855Q589 894 786 797M183 656Q260 681 326 716M162 848Q458 691 668 562M296 866Q339 785 491 722M559 536Q684 567 755 634M176 572Q186 628 359 595M437 820Q527 726 653 648M381 744Q645 624 860 527M-294 838Q181 664 519 513M147 912Q369 743 569 613M-44 868Q178 780 289 682M-418 897Q75 757 472 600M390 951Q598 740 784 584M414 767Q366 700 271 664M-260 881Q263 672 578 492M242 829Q452 864 723 842M348 751Q532 790 816 723M604 630Q738 708 817 842M352 786Q720 605 1018 505M511 717Q624 626 730 548M474 958Q531 805 427 744M701 716Q1023 683 1259 749M360 721Q525 701 644 717M563 840Q688 897 883 895M756 644Q721 808 820 952M145 699Q258 762 538 702M810 844Q941 747 1080 703M559 904Q658 819 739 744M423 749Q375 708 306 682M864 665Q1130 629 1338 667M60 567Q351 543 516 594M475 762Q305 701 136 650M484 781Q685 681 829 686M-54 1009Q360 820 661 659M329 534Q419 539 477 563M69 619Q340 538 569 472M561 682Q667 616 782 574" fill="none" stroke="#f8f8f4" stroke-width="10"/>
<path d="M126 572Q469 500 763 437M962 563Q1137 501 1283 503M650 592Q771 490 939 426M820 767Q1002 587 1191 464M650 654Q871 475 998 345M972 575Q1000 611 1065 625M513 635Q617 501 815 396M469 525Q672 533 918 487M391 500Q484 571 722 564M1061 565Q1178 522 1193 463M646 449Q670 507 778 533M732 419Q790 477 844 547M688 474Q901 490 1114 508M521 438Q541 524 727 542M480 498Q648 434 783 427M923 466Q946 556 1106 584M553 577Q809 596 1114 547M672 768Q1022 586 1313 499M468 553Q511 502 587 454M469 640Q561 561 625 493M624 441Q658 471 765 428M252 539Q378 506 460 509M381 632Q615 464 865 354M186 525Q471 478 717 445M925 537Q1012 484 1106 449M514 635Q832 486 1070 373M842 361Q699 506 676 670M873 549Q1044 520 1150 559M957 508Q949 564 1040 573M996 599Q1048 518 1176 476M617 490Q751 498 787 562M538 453Q575 545 778 568M188 496Q510 451 739 464M315 449Q514 485 701 537M461 410Q592 400 661 426M303 491Q505 462 591 505M423 578Q738 464 995 418M448 683Q710 508 796 383M701 645Q878 556 914 473M811 583Q833 625 918 630M970 600Q1077 591 1119 638M721 473Q894 503 1073 534M489 613Q670 484 775 383M1147 551Q997 541 889 503M898 500Q1002 512 1135 481M284 687Q577 501 820 372M215 537Q385 510 505 515M624 432Q696 467 826 471" fill="none" stroke="#363636" stroke-width="10.5" transform="translate(0 1.5)"/>
<path d="M126 572Q469 500 763 437M962 563Q1137 501 1283 503M650 592Q771 490 939 426M820 767Q1002 587 1191 464M650 654Q871 475 998 345M972 575Q1000 611 1065 625M513 635Q617 501 815 396M469 525Q672 533 918 487M391 500Q484 571 722 564M1061 565Q1178 522 1193 463M646 449Q670 507 778 533M732 419Q790 477 844 547M688 474Q901 490 1114 508M521 438Q541 524 727 542M480 498Q648 434 783 427M923 466Q946 556 1106 584M553 577Q809 596 1114 547M672 768Q1022 586 1313 499M468 553Q511 502 587 454M469 640Q561 561 625 493M624 441Q658 471 765 428M252 539Q378 506 460 509M381 632Q615 464 865 354M186 525Q471 478 717 445M925 537Q1012 484 1106 449M514 635Q832 486 1070 373M842 361Q699 506 676 670M873 549Q1044 520 1150 559M957 508Q949 564 1040 573M996 599Q1048 518 1176 476M617 490Q751 498 787 562M538 453Q575 545 778 568M188 496Q510 451 739 464M315 449Q514 485 701 537M461 410Q592 400 661 426M303 491Q505 462 591 505M423 578Q738 464 995 418M448 683Q710 508 796 383M701 645Q878 556 914 473M811 583Q833 625 918 630M970 600Q1077 591 1119 638M721 473Q894 503 1073 534M489 613Q670 484 775 383M1147 551Q997 541 889 503M898 500Q1002 512 1135 481M284 687Q577 501 820 372M215 537Q385 510 505 515M624 432Q696 467 826 471" fill="none" stroke="#f8f8f4" stroke-width="8"/>
<path d="M805 513Q886 402 1041 316M788 366Q829 389 890 403M969 348Q1007 419 1160 443M715 410Q847 399 927 425M1123 544Q1257 462 1390 405M961 449Q1133 448 1214 518M650 395Q805 412 865 483M759 416Q999 381 1188 394M694 422Q809 376 910 333M880 303Q950 373 924 491M1139 502Q1277 422 1380 350M939 514Q1076 413 1240 352M700 401Q798 378 861 388M1099 404Q1179 383 1230 399M1193 546Q1232 435 1235 350M1088 478Q1151 500 1246 488M877 375Q893 402 961 405M836 487Q929 358 928 270M1163 396Q1279 415 1383 448M525 394Q676 372 740 405M540 450Q762 409 963 353M643 410Q802 348 952 309M1228 498Q1102 482 1010 446M988 542Q1191 454 1325 364M730 359Q847 377 1007 358M911 400Q997 447 1151 455M968 406Q1088 442 1264 428M561 460Q700 429 789 372M791 360Q838 373 903 375M859 463Q953 441 1010 456M859 454Q994 469 1149 465M918 378Q1022 374 1086 399M736 363Q818 397 922 426M759 376Q803 333 727 330M898 443Q1076 453 1275 403M1191 490Q1270 435 1330 383M650 318Q752 358 745 445M1211 507Q990 497 890 419M939 378Q823 332 642 326M893 488Q957 425 1072 402" fill="none" stroke="#363636" stroke-width="9.0" transform="translate(0 1.5)"/>
<path d="M805 513Q886 402 1041 316M788 366Q829 389 890 403M969 348Q1007 419 1160 443M715 410Q847 399 927 425M1123 544Q1257 462 1390 405M961 449Q1133 448 1214 518M650 395Q805 412 865 483M759 416Q999 381 1188 394M694 422Q809 376 910 333M880 303Q950 373 924 491M1139 502Q1277 422 1380 350M939 514Q1076 413 1240 352M700 401Q798 378 861 388M1099 404Q1179 383 1230 399M1193 546Q1232 435 1235 350M1088 478Q1151 500 1246 488M877 375Q893 402 961 405M836 487Q929 358 928 270M1163 396Q1279 415 1383 448M525 394Q676 372 740 405M540 450Q762 409 963 353M643 410Q802 348 952 309M1228 498Q1102 482 1010 446M988 542Q1191 454 1325 364M730 359Q847 377 1007 358M911 400Q997 447 1151 455M968 406Q1088 442 1264 428M561 460Q700 429 789 372M791 360Q838 373 903 375M859 463Q953 441 1010 456M859 454Q994 469 1149 465M918 378Q1022 374 1086 399M736 363Q818 397 922 426M759 376Q803 333 727 330M898 443Q1076 453 1275 403M1191 490Q1270 435 1330 383M650 318Q752 358 745 445M1211 507Q990 497 890 419M939 378Q823 332 642 326M893 488Q957 425 1072 402" fill="none" stroke="#f8f8f4" stroke-width="6.5"/>
<path d="M745 411Q894 348 1016 292M1269 386Q1364 402 1422 446M669 360Q827 381 1042 344M846 347Q946 387 1106 394M951 282Q1102 276 1212 301M751 287Q869 320 881 401M1002 325Q1096 295 1096 260M1206 359Q1278 340 1328 355M1310 366Q1420 339 1498 366M983 346Q992 299 1066 255M740 343Q920 328 1080 326M785 256Q838 284 955 277M1072 281Q1164 330 1254 391M783 280Q751 319 836 319M772 351Q1019 324 1230 324M1207 400Q1084 360 1075 287M1297 307Q1377 315 1400 355M623 375Q814 359 1004 310M1116 312Q1249 305 1345 332M1088 434Q1200 345 1342 289M1120 309Q1204 346 1351 330M810 267Q885 270 902 299M1104 340Q1211 369 1361 355M984 356Q1149 326 1292 282M1070 371Q1153 359 1195 383M1344 416Q1329 347 1373 282M997 378Q1057 405 1165 373M810 283Q927 286 1048 285M1162 321Q1340 314 1487 341M1107 357Q1166 397 1241 435M681 324Q694 352 780 347M782 405Q914 362 1030 320M943 352Q1178 334 1399 288M1261 377Q1316 390 1388 376M1261 470Q1250 377 1232 303M1214 399Q1290 396 1337 419M1294 375Q1197 312 1060 279M1045 374Q1169 412 1330 428M1490 430Q1375 362 1287 298M686 357Q812 304 896 253M477 405Q763 309 997 238M1076 542Q1265 411 1393 307M852 358Q980 374 1142 358M1027 494Q1254 426 1397 333" fill="none" stroke="#363636" stroke-width="8.0" transform="translate(0 1.5)"/>
<path d="M745 411Q894 348 1016 292M1269 386Q1364 402 1422 446M669 360Q827 381 1042 344M846 347Q946 387 1106 394M951 282Q1102 276 1212 301M751 287Q869 320 881 401M1002 325Q1096 295 1096 260M1206 359Q1278 340 1328 355M1310 366Q1420 339 1498 366M983 346Q992 299 1066 255M740 343Q920 328 1080 326M785 256Q838 284 955 277M1072 281Q1164 330 1254 391M783 280Q751 319 836 319M772 351Q1019 324 1230 324M1207 400Q1084 360 1075 287M1297 307Q1377 315 1400 355M623 375Q814 359 1004 310M1116 312Q1249 305 1345 332M1088 434Q1200 345 1342 289M1120 309Q1204 346 1351 330M810 267Q885 270 902 299M1104 340Q1211 369 1361 355M984 356Q1149 326 1292 282M1070 371Q1153 359 1195 383M1344 416Q1329 347 1373 282M997 378Q1057 405 1165 373M810 283Q927 286 1048 285M1162 321Q1340 314 1487 341M1107 357Q1166 397 1241 435M681 324Q694 352 780 347M782 405Q914 362 1030 320M943 352Q1178 334 1399 288M1261 377Q1316 390 1388 376M1261 470Q1250 377 1232 303M1214 399Q1290 396 1337 419M1294 375Q1197 312 1060 279M1045 374Q1169 412 1330 428M1490 430Q1375 362 1287 298M686 357Q812 304 896 253M477 405Q763 309 997 238M1076 542Q1265 411 1393 307M852 358Q980 374 1142 358M1027 494Q1254 426 1397 333" fill="none" stroke="#f8f8f4" stroke-width="5.5"/>
</g></g>
<g clip-path="url(#cfib)"><path d="M0 0H1460V1128H0Z M505.0,507.5 L707.6,546.0 L707.6,840.0 L150.0,697.0 L147.0,691.0Z" fill="#807e7c" fill-opacity="0.33" fill-rule="evenodd"/><polygon points="147.0,691.0 226.0,648.0 402.8,560.0 505.0,507.5 571.0,464.0 588.0,452.0 668.0,400.0 760.0,350.0 806.5,325.0 860.0,310.0 900.0,318.0 860.0,345.0 760.0,400.0 698.0,432.0 599.0,492.0 500.0,543.0 391.0,625.0 225.0,706.0 160.0,716.0" fill="#2a2a2a" fill-opacity="0.48"/></g>
<g clip-path="url(#cfib)" fill="#a01616" stroke="#701010" stroke-width="1.5"><ellipse cx="1187" cy="451" rx="19" ry="7" transform="rotate(-10 1187 451)"/><ellipse cx="1193" cy="468" rx="25" ry="8" transform="rotate(-10 1193 468)"/><ellipse cx="1169" cy="483" rx="30" ry="8" transform="rotate(-8 1169 483)"/><ellipse cx="1216" cy="449" rx="9" ry="4" transform="rotate(-10 1216 449)"/><ellipse cx="1171" cy="499" rx="11" ry="8" transform="rotate(-20 1171 499)"/><ellipse cx="1275" cy="383" rx="10" ry="6" transform="rotate(-15 1275 383)"/><ellipse cx="1304" cy="371" rx="12" ry="4" transform="rotate(-15 1304 371)"/><ellipse cx="1261" cy="422" rx="5" ry="3" transform="rotate(0 1261 422)"/><ellipse cx="1040" cy="578" rx="28" ry="7" transform="rotate(-18 1040 578)"/><ellipse cx="1062" cy="592" rx="30" ry="8" transform="rotate(-18 1062 592)"/><ellipse cx="1050" cy="607" rx="25" ry="6" transform="rotate(-18 1050 607)"/><ellipse cx="1025" cy="623" rx="22" ry="7" transform="rotate(-15 1025 623)"/><ellipse cx="1007" cy="653" rx="13" ry="10" transform="rotate(-30 1007 653)"/><ellipse cx="924" cy="675" rx="20" ry="9" transform="rotate(-15 924 675)"/><ellipse cx="840" cy="748" rx="30" ry="12" transform="rotate(-18 840 748)"/><ellipse cx="858" cy="762" rx="18" ry="7" transform="rotate(-18 858 762)"/><ellipse cx="792" cy="787" rx="12" ry="7" transform="rotate(-10 792 787)"/><ellipse cx="850" cy="789" rx="16" ry="6" transform="rotate(-10 850 789)"/><ellipse cx="737" cy="775" rx="22" ry="7" transform="rotate(-10 737 775)"/><ellipse cx="725" cy="795" rx="11" ry="5" transform="rotate(0 725 795)"/><ellipse cx="770" cy="760" rx="9" ry="4" transform="rotate(0 770 760)"/><ellipse cx="835" cy="315" rx="17" ry="6" transform="rotate(-25 835 315)"/><ellipse cx="785" cy="337" rx="11" ry="4" transform="rotate(-15 785 337)"/><ellipse cx="785" cy="348" rx="9" ry="3" transform="rotate(-15 785 348)"/><ellipse cx="758" cy="367" rx="20" ry="4.5" transform="rotate(-12 758 367)"/><ellipse cx="646" cy="430" rx="19" ry="5.5" transform="rotate(-15 646 430)"/><ellipse cx="650" cy="417" rx="5" ry="3" transform="rotate(-15 650 417)"/><ellipse cx="673" cy="417" rx="4" ry="2" transform="rotate(0 673 417)"/><ellipse cx="692" cy="451" rx="7" ry="2.5" transform="rotate(-10 692 451)"/><ellipse cx="455" cy="526" rx="12" ry="7" transform="rotate(-20 455 526)"/><ellipse cx="455" cy="553" rx="22" ry="10" transform="rotate(-15 455 553)"/><ellipse cx="365" cy="608" rx="19" ry="7" transform="rotate(-10 365 608)"/><ellipse cx="470" cy="590" rx="3.5" ry="3" transform="rotate(0 470 590)"/></g>
<circle cx="1147" cy="420" r="10.5" fill="#a80000"/><circle cx="1144" cy="416.5" r="5" fill="#c41414"/><polygon points="778,822 830,808 840,860 790,868" fill="#d40000"/>
<g clip-path="url(#cfront)"><g transform="matrix(1 0.2 0.0744 1 150 697)"><rect x="-20" y="-20" width="720" height="420" filter="url(#porF)"/></g><g filter="url(#redF)"><ellipse cx="212" cy="865" rx="42" ry="55"/><ellipse cx="282" cy="915" rx="18" ry="14"/><ellipse cx="310" cy="932" rx="8" ry="8"/><ellipse cx="520" cy="975" rx="75" ry="28"/><ellipse cx="660" cy="945" rx="55" ry="85"/><ellipse cx="720" cy="1000" rx="30" ry="35"/><ellipse cx="800" cy="850" rx="25" ry="35"/></g><polygon points="150,697 817,830 817,900 150,770" fill="url(#gFT)"/></g>
<g clip-path="url(#cright)"><rect x="800" y="360" width="530" height="720" filter="url(#porR)"/><g filter="url(#redR)"><polygon points="817.0,830.0 880.0,772.0 998.0,651.0 1085.0,587.0 1165.0,506.5 1248.0,432.0 1322.5,370.0 1318.6,532.0 1212.0,640.0 1112.0,743.0 994.0,872.0 894.0,982.0 815.0,1066.0" fill="url(#gRR)"/></g></g>
<line x1="157.7" y1="925.3" x2="616.4" y2="1033.7" stroke="#000" stroke-width="9"/>
<clipPath id="c1" clipPathUnits="userSpaceOnUse"><path d="M-100 -100H400V100H-100Z M3.6 1V-4.6H14.1V1Z M19.6 1V-4.6H30V1Z" clip-rule="evenodd"/></clipPath>
<text transform="translate(306.6 1023.4) rotate(13.30)" clip-path="url(#c1)" font-family="Liberation Sans, Arial, sans-serif" font-size="57" fill="#000">1 mm</text>
<text x="127.3" y="179.6" font-family="Liberation Sans, Arial, sans-serif" font-size="77" fill="#000">a<tspan dx="3.5">)</tspan></text>
<g class="t" font-size="34.7">
<rect x="1703.6" y="389.4" width="97.5" height="583.2" fill="#0072BD" stroke="#000" stroke-width="1.6"/>
<rect x="1824.1" y="364.2" width="97.5" height="608.4" fill="#0072BD" stroke="#000" stroke-width="1.6"/>
<rect x="1944.5" y="370.6" width="97.5" height="602.0" fill="#0072BD" stroke="#000" stroke-width="1.6"/>
<rect x="2065.0" y="359.9" width="97.5" height="612.7" fill="#0072BD" stroke="#000" stroke-width="1.6"/>
<rect x="2185.4" y="346.1" width="97.5" height="626.5" fill="#0072BD" stroke="#000" stroke-width="1.6"/>
<rect x="2305.8" y="310.4" width="97.5" height="662.2" fill="#0072BD" stroke="#000" stroke-width="1.6"/>
<rect x="2426.3" y="265.4" width="97.5" height="707.2" fill="#0072BD" stroke="#000" stroke-width="1.6"/>
<rect x="2546.7" y="219.8" width="97.5" height="752.8" fill="#0072BD" stroke="#000" stroke-width="1.6"/>
<path d="M1607.3 972.6h11.3M2739.4 972.6h-11.3M1607.3 875.9h11.3M2739.4 875.9h-11.3M1607.3 779.2h11.3M2739.4 779.2h-11.3M1607.3 682.6h11.3M2739.4 682.6h-11.3M1607.3 585.9h11.3M2739.4 585.9h-11.3M1607.3 489.2h11.3M2739.4 489.2h-11.3M1607.3 392.5h11.3M2739.4 392.5h-11.3M1607.3 295.9h11.3M2739.4 295.9h-11.3M1607.3 199.2h11.3M2739.4 199.2h-11.3M1607.3 102.5h11.3M2739.4 102.5h-11.3M1751.8 972.6v-11.3M1751.8 102.5v11.3M1872.3 972.6v-11.3M1872.3 102.5v11.3M1992.7 972.6v-11.3M1992.7 102.5v11.3M2113.1 972.6v-11.3M2113.1 102.5v11.3M2233.6 972.6v-11.3M2233.6 102.5v11.3M2354.0 972.6v-11.3M2354.0 102.5v11.3M2474.4 972.6v-11.3M2474.4 102.5v11.3M2594.9 972.6v-11.3M2594.9 102.5v11.3" stroke="#262626" stroke-width="2" fill="none"/>
<rect x="1607.3" y="102.5" width="1132.1" height="870.1" fill="none" stroke="#262626" stroke-width="2"/>
<text x="1593.5" y="985.2" text-anchor="end">0</text>
<text x="1593.5" y="888.5" text-anchor="end">0.05</text>
<text x="1593.5" y="791.8" text-anchor="end">0.1</text>
<text x="1593.5" y="695.2" text-anchor="end">0.15</text>
<text x="1593.5" y="598.5" text-anchor="end">0.2</text>
<text x="1593.5" y="501.8" text-anchor="end">0.25</text>
<text x="1593.5" y="405.1" text-anchor="end">0.3</text>
<text x="1593.5" y="308.5" text-anchor="end">0.35</text>
<text x="1593.5" y="211.8" text-anchor="end">0.4</text>
<text x="1593.5" y="115.1" text-anchor="end">0.45</text>
<text x="1751.8" y="1020.4" text-anchor="middle">0.1</text>
<text x="1872.3" y="1020.4" text-anchor="middle">0.25</text>
<text x="1992.7" y="1020.4" text-anchor="middle">0.5</text>
<text x="2113.1" y="1020.4" text-anchor="middle">0.75</text>
<text x="2233.6" y="1020.4" text-anchor="middle">1.0</text>
<text x="2354.0" y="1020.4" text-anchor="middle">1.5</text>
<text x="2474.4" y="1020.4" text-anchor="middle">2.0</text>
<text x="2594.9" y="1020.4" text-anchor="middle">2.5</text>

</g>
<text class="t" x="2172.4" y="1076.6" font-size="38" text-anchor="middle">A/cm<tspan font-size="30.5" dy="-17.8" dx="1.5">2</tspan></text>
<text class="t" transform="translate(1496 538) rotate(-90)" font-size="37.4" text-anchor="middle">Oxygen saturation</text>
<text x="1646.2" y="179.6" font-family="Liberation Sans, Arial, sans-serif" font-size="77" fill="#000">b<tspan dx="3.5">)</tspan></text>
</svg>
</body></html>
